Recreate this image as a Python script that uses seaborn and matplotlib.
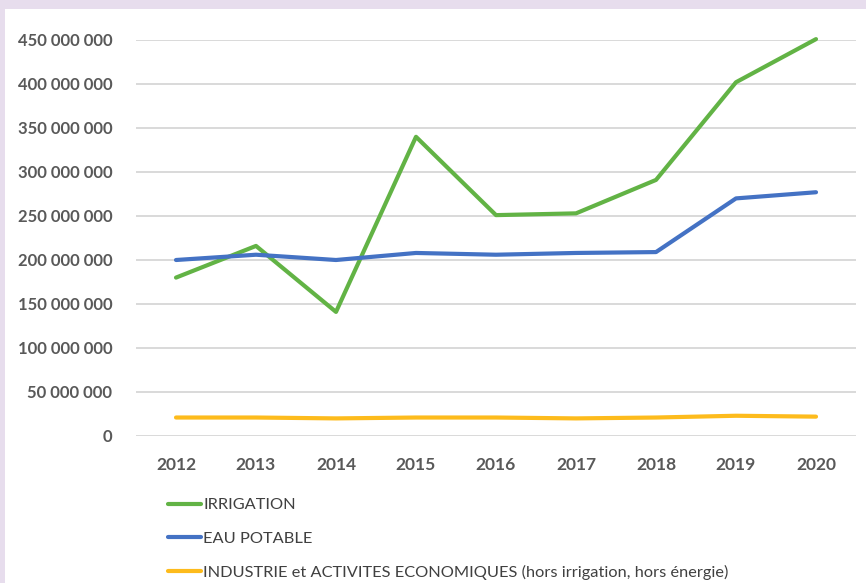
import matplotlib
matplotlib.use("Agg")
import matplotlib.pyplot as plt
import seaborn as sns
import pandas as pd
from matplotlib.patches import Rectangle
from matplotlib.lines import Line2D

years = [2012, 2013, 2014, 2015, 2016, 2017, 2018, 2019, 2020]
irrigation = [180e6, 216e6, 141e6, 340e6, 251e6, 253e6, 291e6, 402e6, 451e6]
eau_potable = [200e6, 206e6, 200e6, 208e6, 206e6, 208e6, 209e6, 270e6, 277e6]
industrie = [21e6, 21e6, 20e6, 21e6, 21e6, 20e6, 21e6, 23e6, 22e6]
series_names = ["IRRIGATION", "EAU POTABLE",
                "INDUSTRIE et ACTIVITES ECONOMIQUES (hors irrigation, hors énergie)"]
colors = ["#62B345", "#4472C4", "#FDBB1C"]
yticks = [0, 50e6, 100e6, 150e6, 200e6, 250e6, 300e6, 350e6, 400e6, 450e6]

df = pd.DataFrame({
    "year": years * 3,
    "value": irrigation + eau_potable + industrie,
    "serie": [series_names[0]] * 9 + [series_names[1]] * 9 + [series_names[2]] * 9,
})

sns.set_theme(style="white")
plt.rcParams["font.family"] = ["Lato", "DejaVu Sans"]

W, H = 866, 583
fig = plt.figure(figsize=(W / 100, H / 100), dpi=100)
fig.patch.set_facecolor("white")
# purple frame pieces
fig.patches.append(Rectangle((0, 1 - 9 / H), 1, 9 / H, transform=fig.transFigure,
                             facecolor="#E7DDED", edgecolor="none", zorder=0))
fig.patches.append(Rectangle((0, 0), 5 / W, 1, transform=fig.transFigure,
                             facecolor="#E7DDED", edgecolor="none", zorder=0))

ax = fig.add_axes([136 / W, (H - 436) / H, (856 - 136) / W, (436 - 40) / H])
sns.lineplot(data=df, x="year", y="value", hue="serie", palette=colors,
             hue_order=series_names, linewidth=3.0, ax=ax, legend=False,
             sort=False)
for ln in ax.lines:
    ln.set_clip_on(False)
    ln.set_solid_capstyle("round")
    ln.set_solid_joinstyle("round")

ax.set_xlim(2011.5, 2020.5)
ax.set_ylim(0, 450e6)
ax.set_yticks(yticks)
ax.set_yticklabels([f"{int(v):,}".replace(",", " ") for v in yticks])
ax.set_xticks(years)
ax.set_xticklabels([str(y) for y in years])
ax.tick_params(axis="y", length=0, pad=17, labelsize=12, labelcolor="#595959")
ax.tick_params(axis="x", length=0, pad=15, labelsize=12.5, labelcolor="#595959")
for lab in ax.get_yticklabels() + ax.get_xticklabels():
    lab.set_fontweight("bold")
ax.grid(axis="y", color="#D9D9D9", linewidth=1.4)
ax.set_axisbelow(True)
for s in ax.spines.values():
    s.set_visible(False)
ax.set_xlabel("")
ax.set_ylabel("")

handles = [Line2D([0], [0], color=c, lw=3.0, solid_capstyle="round") for c in colors]
leg = fig.legend(handles, series_names, loc="upper left",
                 bbox_to_anchor=(158 / W, 1 - 488 / H), frameon=False,
                 fontsize=11.8, handlelength=2.0, handletextpad=0.15,
                 labelspacing=1.15, labelcolor="#404040", borderaxespad=0.2)

fig.savefig("out.png", dpi=100)
